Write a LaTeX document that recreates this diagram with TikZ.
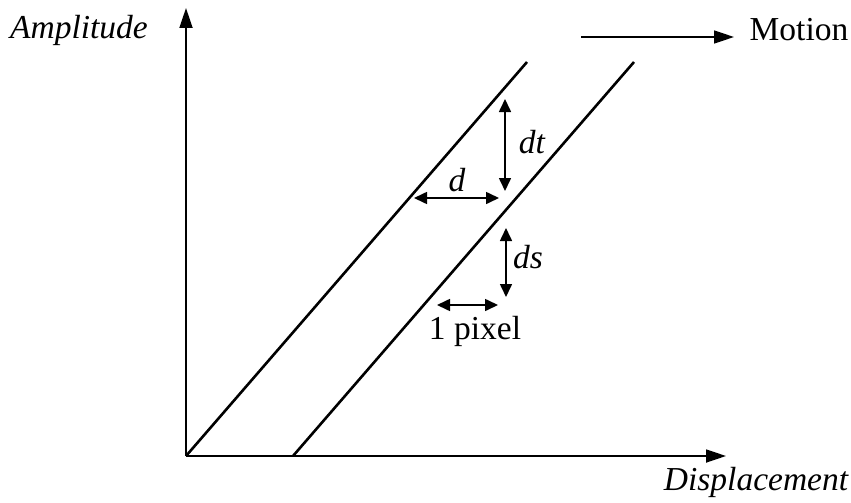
\documentclass[tikz,border=0pt]{standalone}
\usepackage{fontspec}
\setmainfont{Liberation Serif}
\usetikzlibrary{arrows.meta}
\begin{document}
\begin{tikzpicture}[x=1pt,y=-1pt,
  lbl/.style={font=\fontsize{33.5}{39}\selectfont, inner sep=0pt},
  axis/.style={line width=1.8pt, -{Triangle[length=20pt,width=13pt]}},
  wave/.style={line width=2.6pt},
  dim/.style={line width=1.6pt, {Triangle[length=13pt,width=12pt]}-{Triangle[length=13pt,width=12pt]}}]
\useasboundingbox (0,0) rectangle (851,503);
\coordinate (o) at (186,456);
\coordinate (ytop) at (186,8);
\coordinate (xend) at (726,456);
\coordinate (w1a) at (186,456);
\coordinate (w1b) at (527,62);
\coordinate (w2a) at (293,456);
\coordinate (w2b) at (634,62);
\coordinate (m1) at (581,37);
\coordinate (m2) at (734,37);
\coordinate (dt1) at (505,99);
\coordinate (dt2) at (505,191);
\coordinate (d1) at (414,198);
\coordinate (d2) at (499,198);
\coordinate (ds1) at (506,228);
\coordinate (ds2) at (506,297);
\coordinate (p1) at (437,305);
\coordinate (p2) at (498,305);
\draw[axis] (o) -- (ytop);
\draw[axis] (o) -- (xend);
\draw[wave] (w1a) -- (w1b);
\draw[wave] (w2a) -- (w2b);
\draw[axis, line width=1.6pt] (m1) -- (m2);
\draw[dim] (dt1) -- (dt2);
\draw[dim] (d1) -- (d2);
\draw[dim] (ds1) -- (ds2);
\draw[dim] (p1) -- (p2);
\node[lbl] (amp) at (79,30) {\itshape Amplitude};
\node[lbl] (mot) at (799,30) {Motion};
\node[lbl] (disp) at (756,482) {\itshape Displacement};
\node[lbl] (dtl) at (532,142) {\itshape dt};
\node[lbl] (dl) at (457,180) {\itshape d};
\node[lbl] (dsl) at (528,257) {\itshape ds};
\node[lbl] (pl) at (475,331) {1 pixel};
\end{tikzpicture}
\end{document}
